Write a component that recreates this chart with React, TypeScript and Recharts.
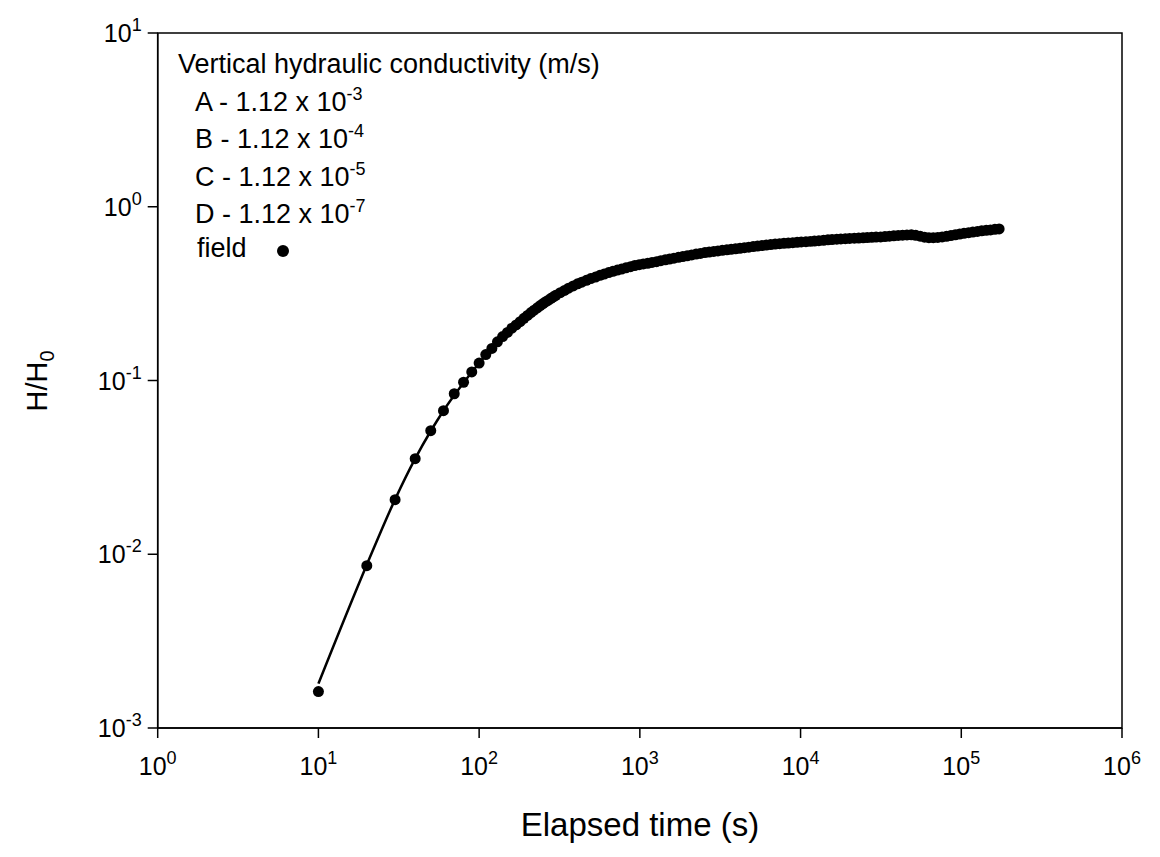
import React from "react";
import {
  ComposedChart,
  Line,
  Scatter,
  XAxis,
  YAxis,
  ZAxis,
  ReferenceArea,
} from "recharts";

// field readings: elapsed time (s) and normalised head H/H0
const fieldTime = [
  10, 20, 30, 40, 50, 60, 70, 80, 90, 100, 110, 120, 130, 140, 150, 160, 170, 180, 190, 200,
  210, 220, 230, 240, 250, 260, 270, 280, 290, 300, 320, 340, 360, 385, 410, 435, 465, 495,
  530, 565, 600, 640, 680, 725, 770, 820, 875, 930, 990, 1050, 1120, 1190, 1270, 1350, 1440,
  1530, 1630, 1740, 1850, 1970, 2100, 2240, 2380, 2540, 2700, 2880, 3060, 3260, 3480, 3700,
  3940, 4200, 4470, 4760, 5070, 5400, 5750, 6120, 6520, 6950, 7400, 7880, 8390, 8940, 9520,
  10100, 10800, 11500, 12200, 13000, 13900, 14800, 15700, 16800, 17800, 19000, 20200, 21600,
  23000, 24500, 26000, 27700, 29500, 31500, 33500, 35700, 38000, 40500, 43100, 45900, 48900,
  52100, 55500, 59100, 62900, 67000, 71400, 76000, 81000, 86200, 91800, 97800, 104000,
  111000, 118000, 126000, 134000, 143000, 152000, 162000, 172000,
];
const fieldHead = [
  0.00162, 0.00859, 0.0206, 0.0355, 0.0514, 0.067, 0.0839, 0.0977, 0.112, 0.126, 0.141,
  0.153, 0.167, 0.179, 0.189, 0.2, 0.209, 0.218, 0.228, 0.237, 0.246, 0.254, 0.262, 0.27,
  0.277, 0.284, 0.29, 0.297, 0.303, 0.309, 0.32, 0.33, 0.34, 0.35, 0.36, 0.368, 0.377, 0.386,
  0.394, 0.403, 0.41, 0.418, 0.425, 0.432, 0.438, 0.445, 0.452, 0.459, 0.464, 0.469, 0.473,
  0.478, 0.483, 0.489, 0.495, 0.5, 0.506, 0.512, 0.517, 0.522, 0.528, 0.534, 0.539, 0.545,
  0.549, 0.553, 0.557, 0.561, 0.565, 0.569, 0.573, 0.577, 0.581, 0.585, 0.59, 0.594, 0.598,
  0.602, 0.606, 0.61, 0.613, 0.616, 0.618, 0.621, 0.624, 0.627, 0.629, 0.632, 0.635, 0.638,
  0.641, 0.645, 0.647, 0.651, 0.653, 0.655, 0.657, 0.659, 0.661, 0.663, 0.665, 0.667, 0.669,
  0.67, 0.674, 0.677, 0.68, 0.684, 0.686, 0.688, 0.69, 0.685, 0.677, 0.668, 0.664, 0.664,
  0.666, 0.67, 0.676, 0.683, 0.69, 0.697, 0.703, 0.709, 0.715, 0.721, 0.727, 0.732, 0.736,
  0.741, 0.745,
];

// fitted curve
const modelTime = [10, 20, 30, 40, 50, 60, 80, 100, 150, 200, 300, 500, 1000, 3000, 10000, 30000, 100000, 172000];
const modelHead = [0.0018, 0.0087, 0.0207, 0.0355, 0.0512, 0.067, 0.097, 0.126, 0.19, 0.237, 0.309, 0.386, 0.465, 0.556, 0.627, 0.668, 0.7, 0.745];

const xTicks = [1, 10, 100, 1000, 10000, 100000, 1000000];
const yTicks = [0.001, 0.01, 0.1, 1, 10];

const legendTitle = "Vertical hydraulic conductivity (m/s)";
const legendRows = [
  { label: "A - 1.12 x 10", exp: "-3" },
  { label: "B - 1.12 x 10", exp: "-4" },
  { label: "C - 1.12 x 10", exp: "-5" },
  { label: "D - 1.12 x 10", exp: "-7" },
];

const field = fieldTime.map((t, i) => ({ t, h: fieldHead[i] }));
const model = modelTime.map((t, i) => ({ t, h: modelHead[i] }));

const FONT = "'Liberation Sans', Arial, sans-serif";

const XTick = (props: any) => {
  const { x, y, payload } = props;
  const e = Math.round(Math.log10(payload.value));
  return (
    <text x={x} y={y + 35} textAnchor="middle" fontSize={25} fontFamily={FONT} fill="#000">
      10
      <tspan dy={-11} fontSize={18}>{e}</tspan>
    </text>
  );
};

const YTick = (props: any) => {
  const { x, y, payload } = props;
  const e = Math.round(Math.log10(payload.value));
  return (
    <text x={x} y={y + 9} textAnchor="end" fontSize={25} fontFamily={FONT} fill="#000">
      10
      <tspan dy={-11} fontSize={18}>{e}</tspan>
    </text>
  );
};

const YTitle = () => (
  <text
    x={47}
    y={381}
    transform="rotate(-90, 47, 381)"
    textAnchor="middle"
    fontSize={29}
    fontFamily={FONT}
    fill="#000"
  >
    H/H
    <tspan dy={7} fontSize={20}>0</tspan>
  </text>
);

const XTitle = () => (
  <text x={640} y={836} textAnchor="middle" fontSize={33} fontFamily={FONT} fill="#000">
    Elapsed time (s)
  </text>
);

function LegendBox() {
  return (
    <svg
      width={700}
      height={280}
      style={{ position: "absolute", left: 0, top: 0, pointerEvents: "none" }}
    >
      <g fontFamily={FONT} fill="#000">
        <text x={178} y={73} fontSize={27}>{legendTitle}</text>
        {legendRows.map((r, i) => (
          <text key={r.exp} x={195} y={111 + i * 37.3} fontSize={27}>
            {r.label}
            <tspan dy={-11} fontSize={18}>{r.exp}</tspan>
          </text>
        ))}
        <text x={197} y={257} fontSize={27}>field</text>
        <circle cx={283} cy={251} r={6} fill="#000" />
      </g>
    </svg>
  );
}

export default function App() {
  return (
    <div style={{ position: "absolute", left: 0, top: 0, width: 1160, height: 857, background: "#fff" }}>
      <ComposedChart
        width={1160}
        height={857}
        margin={{ top: 33, right: 38, bottom: 0, left: 0 }}
      >
        <XAxis
          dataKey="t"
          type="number"
          scale="log"
          domain={[1, 1000000]}
          ticks={xTicks}
          allowDataOverflow
          height={129}
          stroke="#000"
          strokeWidth={1.5}
          tickSize={10}
          tick={<XTick />}
          label={<XTitle />}
        />
        <YAxis
          dataKey="h"
          type="number"
          scale="log"
          domain={[0.001, 10]}
          ticks={yTicks}
          allowDataOverflow
          width={157.7}
          stroke="#000"
          strokeWidth={1.5}
          tickSize={10}
          tickMargin={6}
          tick={<YTick />}
          label={<YTitle />}
        />
        <ZAxis range={[95, 95]} />
        <ReferenceArea
          x1={1}
          x2={1000000}
          y1={0.001}
          y2={10}
          fill="none"
          fillOpacity={0}
          stroke="#000"
          strokeWidth={1.5}
        />
        <Line
          data={model}
          dataKey="h"
          type="monotone"
          stroke="#000"
          strokeWidth={2.5}
          dot={false}
          isAnimationActive={false}
        />
        <Scatter data={field} dataKey="h" fill="#000" shape="circle" isAnimationActive={false} />
      </ComposedChart>
      <LegendBox />
    </div>
  );
}
